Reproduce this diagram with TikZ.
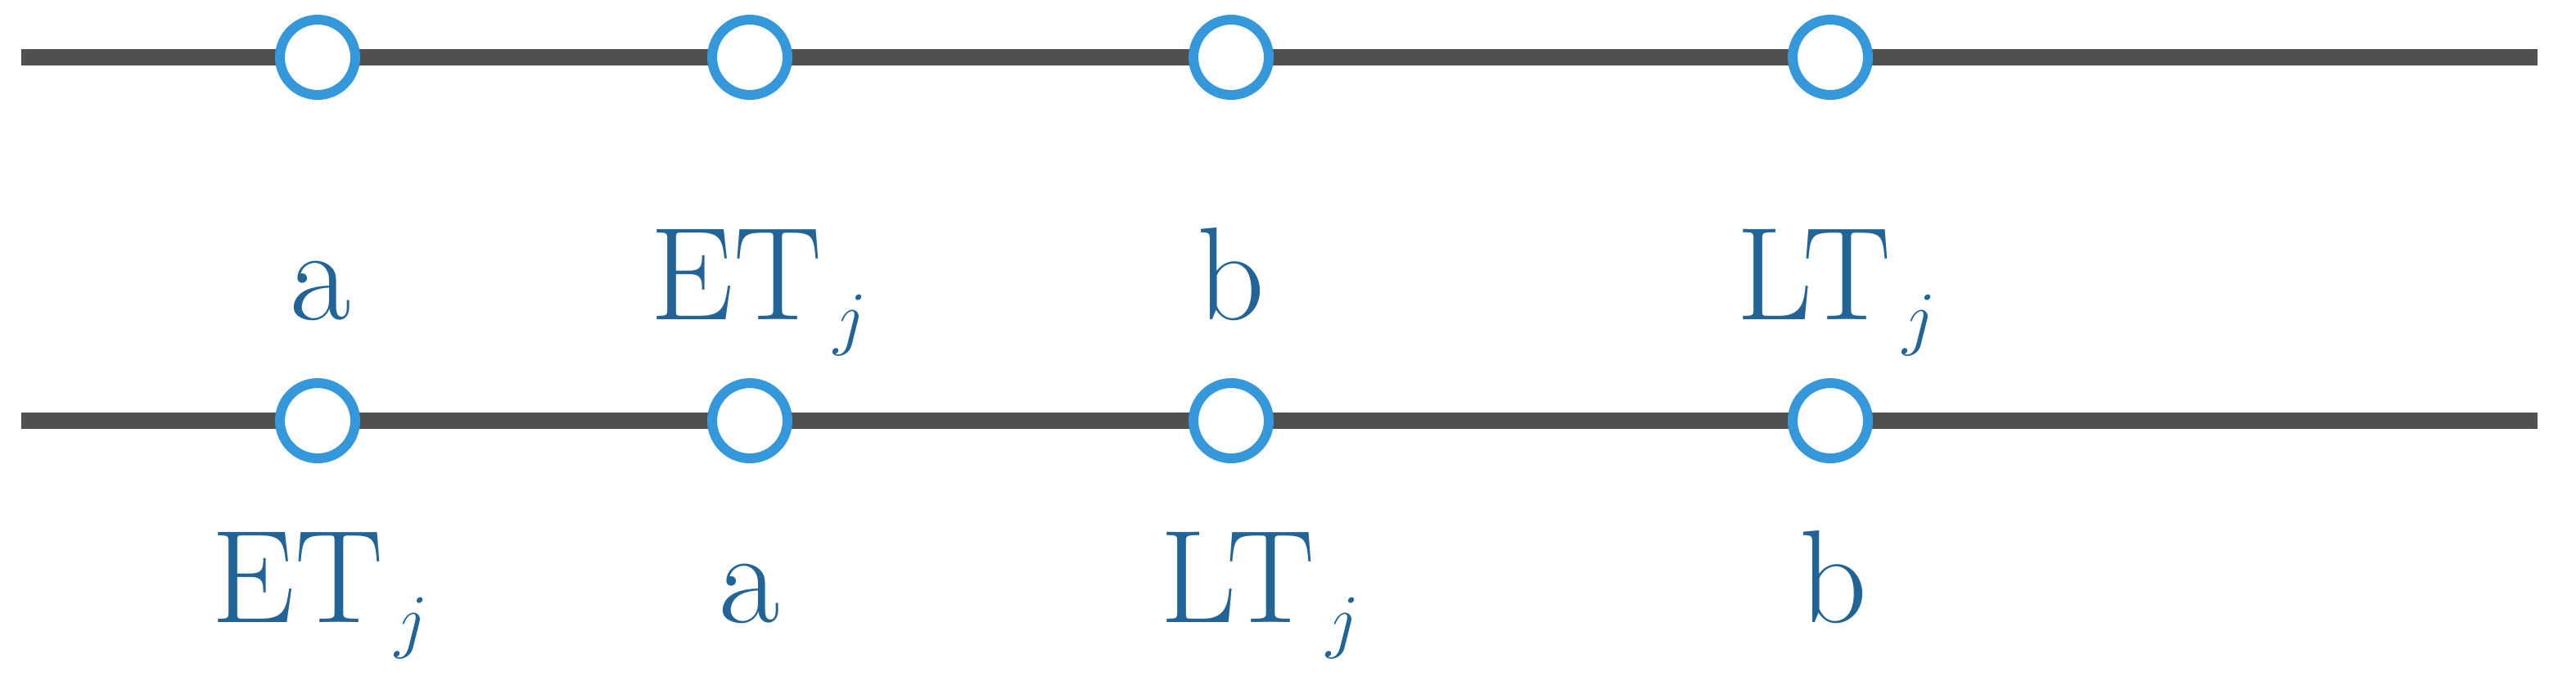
\documentclass[tikz,border=0pt]{standalone}
\usepackage{xcolor}
\definecolor{lineg}{RGB}{80,80,80}
\definecolor{circb}{RGB}{52,152,219}
\definecolor{txtb}{RGB}{34,100,150}
\begin{document}
\begin{tikzpicture}[x=0.02cm,y=-0.02cm,
  pt/.style={circle,draw=circb,fill=white,line width=0.12cm,minimum size=0.92cm,inner sep=0pt},
  lbl/.style={text=txtb,font=\fontsize{46}{50}\selectfont,anchor=base},
  track/.style={draw=lineg,line width=0.2cm}]
\useasboundingbox (0,0) rectangle (1573.5,415.5);
\coordinate (l1s) at (13,35); \coordinate (l1e) at (1550,35);
\coordinate (l2s) at (13,257); \coordinate (l2e) at (1550,257);
\draw[track] (l1s) -- (l1e);
\draw[track] (l2s) -- (l2e);
\node[pt] (p1) at (194,35) {};
\node[pt] (p2) at (458,35) {};
\node[pt] (p3) at (752,35) {};
\node[pt] (p4) at (1118,35) {};
\node[pt] (q1) at (194,257) {};
\node[pt] (q2) at (458,257) {};
\node[pt] (q3) at (752,257) {};
\node[pt] (q4) at (1118,257) {};
\node[lbl] (t1) at (196,195) {a};
\node[lbl] (t2) at (464,195) {ET$_{\,j}$};
\node[lbl] (t3) at (752,195) {b};
\node[lbl] (t4) at (1122,195) {LT$_{\,j}$};
\node[lbl] (u1) at (196,380) {ET$_{\,j}$};
\node[lbl] (u2) at (458,380) {a};
\node[lbl] (u3) at (770,380) {LT$_{\,j}$};
\node[lbl] (u4) at (1120,380) {b};
\end{tikzpicture}
\end{document}
